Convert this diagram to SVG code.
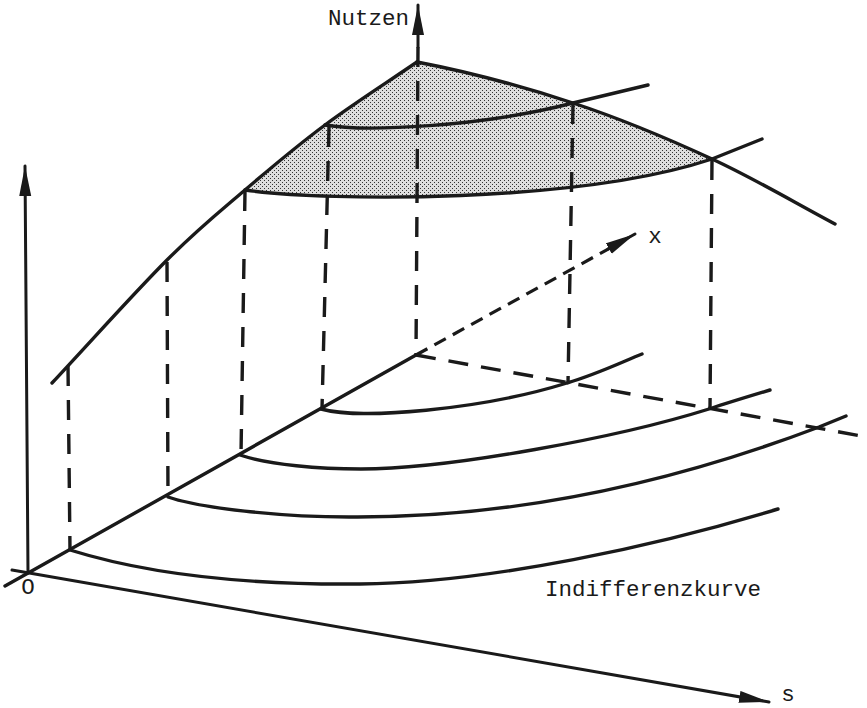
<svg xmlns="http://www.w3.org/2000/svg" width="867" height="708" viewBox="0 0 867 708">
<style>
.ln{fill:none;stroke:#1a1a1a;stroke-width:3.4;stroke-linecap:round;stroke-linejoin:round}
.ax{fill:none;stroke:#1a1a1a;stroke-width:3;stroke-linecap:round}
.dv{fill:none;stroke:#1a1a1a;stroke-width:3.4;stroke-dasharray:20 14}
.df{fill:none;stroke:#1a1a1a;stroke-width:3.4;stroke-dasharray:20 13}
.dx{fill:none;stroke:#1a1a1a;stroke-width:3.2;stroke-dasharray:13 8}
.t{font-family:"Liberation Mono","Courier New",monospace;font-size:22.5px;fill:#1a1a1a}
</style>
<defs>
<marker id="arr" markerUnits="userSpaceOnUse" markerWidth="32" markerHeight="14" refX="30" refY="6" orient="auto">
<path d="M0,0 L30,6 L0,12 Z" fill="#1a1a1a"/>
</marker>
<pattern id="stip" width="4" height="4" patternUnits="userSpaceOnUse">
<rect width="4" height="4" fill="#dedede"/>
<rect x="0" y="0" width="1" height="1" fill="#333"/>
<rect x="2" y="2" width="1" height="1" fill="#333"/>
</pattern>
</defs>
<rect width="867" height="708" fill="#fff"/>

<g id="surface-shade">
<path d="M417,62 C386.3,83 353.7,103.7 325,125 C296.3,146.3 271.3,167.5 245,190 C330,202 580,203 712,159 C668.3,138.8 622.2,119.2 573,103 C523.8,86.8 469,72 417,62 Z" fill="url(#stip)" stroke="none"/>
</g>

<g id="axes">
<line class="ax" x1="28" y1="573" x2="25" y2="166" marker-end="url(#arr)"/>
<line class="ax" x1="12" y1="570" x2="769" y2="702" marker-end="url(#arr)"/>
<line class="ln" x1="5" y1="586" x2="416" y2="355"/>
<line class="dx" x1="416" y1="355" x2="612" y2="247"/>
<line class="ax" x1="608" y1="249" x2="635" y2="234" marker-end="url(#arr)"/>
<line class="ax" x1="418" y1="47" x2="418" y2="5" marker-end="url(#arr)"/>
<line class="dv" x1="418" y1="47" x2="416" y2="355"/>
<line class="df" x1="416" y1="355" x2="867" y2="437"/>
</g>

<g id="surface">
<path class="ln" d="M417,62 C386.3,83 353.7,103.7 325,125 C296.3,146.3 271.3,167.5 245,190 C218.7,212.5 199.2,227.8 167,260 C134.8,292.2 90.3,342 52,383"/>
<path class="ln" d="M417,62 C469,72 523.8,86.8 573,103 C622.2,119.2 668.3,138.8 712,159 C755.7,179.2 794,202.3 835,224"/>
<path class="ln" d="M325,125 C365,132 480,127 573,103 L648,85"/>
<path class="ln" d="M245,190 C330,202 580,203 712,159 L762,139"/>
</g>

<g id="projections">
<line class="dv" x1="68" y1="366" x2="70" y2="550"/>
<line class="dv" x1="167" y1="262" x2="168" y2="497"/>
<line class="dv" x1="245" y1="191" x2="241" y2="455"/>
<line class="dv" x1="329" y1="127" x2="322" y2="409"/>
<line class="dv" x1="573" y1="104" x2="568" y2="383"/>
<line class="dv" x1="712" y1="160" x2="710" y2="409"/>
</g>

<g id="indifference-curves">
<path class="ln" d="M321,409 C360,420 480,410 567,383 C595,375 620,363 642,354"/>
<path class="ln" d="M240,455 C270,465 320,469 361,469 C450,469 620,437 709,409 C730,402 750,396 770,390"/>
<path class="ln" d="M168,497 C200,508 280,517 349,517 C480,518 640,495 819,427 L846,416"/>
<path class="ln" d="M70,550 C150,575 250,585 360,584 C490,583 660,545 778,509"/>
</g>

<g id="labels">
<text class="t" x="328" y="25">Nutzen</text>
<text class="t" x="655" y="243" text-anchor="middle">x</text>
<text class="t" x="28" y="594" text-anchor="middle">O</text>
<text class="t" x="545" y="596">Indifferenzkurve</text>
<text class="t" x="788" y="701" text-anchor="middle">s</text>
</g>
</svg>
